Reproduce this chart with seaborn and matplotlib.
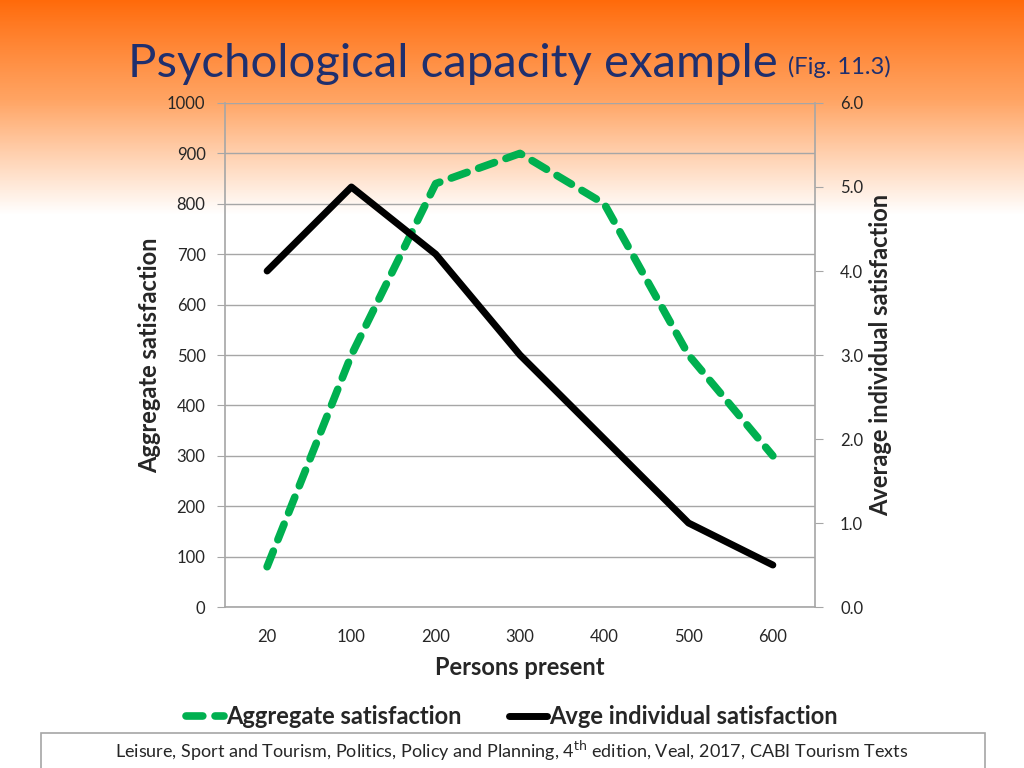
import numpy as np
import pandas as pd
import seaborn as sns
import matplotlib.pyplot as plt
from matplotlib.colors import LinearSegmentedColormap
from matplotlib.patches import Rectangle
from matplotlib.lines import Line2D

persons = ['20', '100', '200', '300', '400', '500', '600']
aggregate = [80, 500, 840, 900, 800, 500, 300]
individual = [4.0, 5.0, 4.2, 3.0, 2.0, 1.0, 0.5]

df = pd.DataFrame({'persons': persons, 'aggregate': aggregate, 'individual': individual})

sns.set_style('white')
plt.rcParams['font.family'] = ['Lato', 'DejaVu Sans']

fig = plt.figure(figsize=(10.24, 7.68), dpi=100)

# orange -> white background band at the top
bg = fig.add_axes([0, 0, 1, 1], zorder=-10)
grad = np.ones((768, 1))
cut = 215
grad[:cut, 0] = np.linspace(0, 1, cut) ** 0.9
cmap = LinearSegmentedColormap.from_list('bg', ['#FF6A0A', '#FFA463', '#FFFFFF'])
bg.imshow(grad, aspect='auto', cmap=cmap, extent=[0, 1, 0, 1], origin='upper')
bg.axis('off')

ax = fig.add_axes([0.2197, 0.2096, 0.5762, 0.6563])
ax.patch.set_alpha(0)
ax2 = ax.twinx()

sns.lineplot(data=df, x='persons', y='aggregate', ax=ax, color='#00B050',
             linewidth=5.5, sort=False)
ax.lines[0].set_dashes([2.2, 1.6])
ax.lines[0].set_dash_capstyle('round')
sns.lineplot(data=df, x='persons', y='individual', ax=ax2, color='black',
             linewidth=5, sort=False)

ax.set_xlim(-0.5, 6.5)
ax.set_ylim(0, 1000)
ax.set_yticks(range(0, 1001, 100))
ax2.set_ylim(0, 6)
ax2.set_yticks(range(0, 7))
ax2.set_yticklabels([f'{v:.1f}' for v in range(0, 7)])
ax.grid(axis='y', color='#A6A6A6', linewidth=1)
ax.set_axisbelow(True)

for a in (ax, ax2):
    for s in a.spines.values():
        s.set_visible(False)
ax.spines['left'].set_visible(True)
ax.spines['bottom'].set_visible(True)
ax2.spines['right'].set_visible(True)
for s in (ax.spines['left'], ax.spines['bottom'], ax2.spines['right']):
    s.set_color('#A6A6A6')
    s.set_linewidth(1.2)

ax.tick_params(axis='y', length=6, color='#A6A6A6', labelsize=12, pad=8)
ax2.tick_params(axis='y', length=6, color='#A6A6A6', labelsize=12, pad=12)
ax.set_xticks(range(len(persons)))
ax.set_xticklabels(persons)
ax.tick_params(axis='x', which='major', length=0, labelsize=12, pad=16)
ax.set_xticks(np.arange(-0.5, 7, 1), minor=True)
ax.tick_params(axis='x', which='minor', length=6, color='#A6A6A6')

ax.set_xlabel('Persons present', fontsize=17, fontweight='bold', labelpad=8)
ax.set_ylabel('Aggregate satisfaction', fontsize=17, fontweight='bold', labelpad=4)
ax2.set_ylabel('Average individual satisfaction', fontsize=17, fontweight='bold', labelpad=4)

title = fig.text(0.125, 0.9, 'Psychological capacity example', fontsize=34, color='#1F2F6E')
fig.canvas.draw()
bb = title.get_window_extent().transformed(fig.transFigure.inverted())
fig.text(bb.x1 + 0.01, 0.903, '(Fig. 11.3)', fontsize=17, color='#1F2F6E')

handles = [Line2D([], [], color='#00B050', linewidth=5.5, dashes=[2.2, 1.6], dash_capstyle='round'),
           Line2D([], [], color='black', linewidth=5)]
fig.legend(handles, ['Aggregate satisfaction', 'Avge individual satisfaction'],
           loc='center', bbox_to_anchor=(0.5, 0.067), ncol=2, frameon=False,
           prop={'size': 17, 'weight': 'bold'}, handlelength=1.6, handletextpad=0.1,
           columnspacing=2.0)

fig.patches.append(Rectangle((0.040, -0.01), 0.922, 0.056, transform=fig.transFigure,
                             fill=False, edgecolor='#A6A6A6', linewidth=1.2))
fig.text(0.5, 0.022, 'Leisure, Sport and Tourism, Politics, Policy and Planning, 4$^{\\mathrm{th}}$ edition, Veal, 2017, CABI Tourism Texts',
         ha='center', va='center', fontsize=13)

fig.savefig('out.png', dpi=100)
